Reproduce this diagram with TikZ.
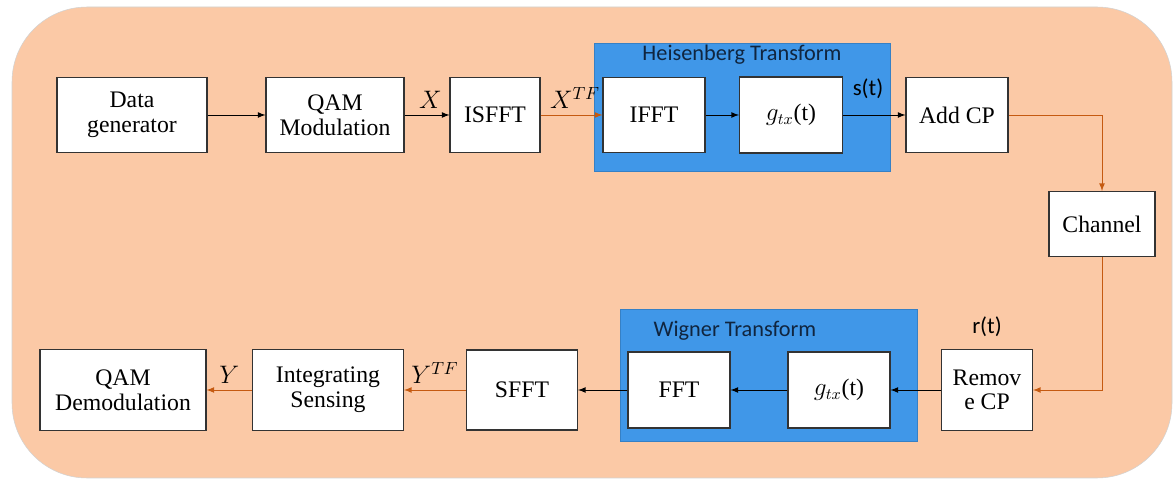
\documentclass[tikz,border=0pt]{standalone}
\usepackage{fontspec}
\setmainfont{Liberation Serif}
\newfontfamily\labelfont{Carlito}
\usepackage{tikz}
\usetikzlibrary{positioning,arrows}

\definecolor{peach}{RGB}{251,201,166}
\definecolor{tfblue}{RGB}{64,151,232}
\definecolor{sigbrown}{RGB}{197,90,17}
\definecolor{titlenavy}{RGB}{16,37,63}

\begin{document}
\begin{tikzpicture}[node distance=3cm,on grid,auto,
  block/.style={draw=black!80,fill=white,line width=0.6pt,align=center,
    font=\fontsize{13.5}{14}\selectfont,minimum width=2.04cm,minimum height=1.5cm,inner sep=1pt},
  tfbox/.style={fill=tfblue,draw=tfblue!85!black,line width=0.4pt},
  tftitle/.style={font=\labelfont\fontsize{12.7}{14}\selectfont,text=titlenavy},
  sig/.style={-latex,line width=0.5pt,draw=black},
  osig/.style={-latex,line width=0.5pt,draw=sigbrown},
  lbl/.style={font=\fontsize{14}{16}\selectfont},
  tlbl/.style={font=\labelfont\fontsize{13}{15}\selectfont}]
  \useasboundingbox (0,0) rectangle (23.52,-9.62);
  \fill[peach,draw=gray!35,line width=0.3pt,rounded corners=1.5cm]
    (0.24,-0.14) rectangle (23.44,-9.56);
  % transform blocks
  \node[tfbox,minimum width=5.92cm,minimum height=2.56cm] (heis) at (14.84,-2.14) {};
  \node[tfbox,minimum width=5.94cm,minimum height=2.64cm] (wig) at (15.37,-7.50) {};
  \node[tftitle] (heis_title) at (14.84,-1.10) {Heisenberg Transform};
  \node[tftitle] (wig_title) at (14.70,-6.62) {Wigner Transform};
  % transmitter
  \node[block,minimum width=3cm] (data_gen) at (2.64,-2.30) {Data\\generator};
  \node[block,minimum width=2.76cm] (qam_mod) [right=4.06cm of data_gen] {QAM\\Modulation};
  \node[block,minimum width=1.8cm] (isfft) [right=3.20cm of qam_mod] {ISFFT};
  \node[block] (ifft) [right=3.18cm of isfft] {IFFT};
  \node[block,minimum width=2.06cm,minimum height=1.52cm] (g_tx) [right=2.74cm of ifft] {$g_{tx}$(t)};
  \node[block] (add_cp) [right=3.32cm of g_tx] {Add CP};
  \node[block,minimum width=2.12cm,minimum height=1.3cm] (channel) at (22.04,-4.48) {Channel};
  % receiver
  \node[block,minimum width=1.82cm,minimum height=1.62cm] (rem_cp) at (19.74,-7.80) {Remov\\e CP};
  \node[block,minimum height=1.52cm] (g_rx) [left=2.96cm of rem_cp] {$g_{tx}$(t)};
  \node[block,minimum height=1.52cm] (fft) [left=3.20cm of g_rx] {FFT};
  \node[block,minimum width=2.22cm,minimum height=1.6cm] (sfft) [left=3.14cm of fft] {SFFT};
  \node[block,minimum width=3.02cm,minimum height=1.62cm] (integ) [left=3.88cm of sfft] {Integrating\\Sensing};
  \node[block,minimum width=3.32cm,minimum height=1.62cm] (qam_demod) [left=4.10cm of integ] {QAM\\Demodulation};
  \node[tlbl] (r_t) [above=1.26cm of rem_cp] {r(t)};
  \path
  (data_gen) edge[sig] (qam_mod)
  (qam_mod) edge[sig] node[lbl,xshift=2pt] {$X$} (isfft)
  (isfft) edge[osig] node[lbl,xshift=2pt] {$X^{TF}$} (ifft)
  (ifft) edge[sig] (g_tx)
  (g_tx) edge[sig] node[tlbl,pos=0.4,yshift=5.5pt] {s(t)} (add_cp)
  (rem_cp) edge[sig] (g_rx)
  (g_rx) edge[sig] (fft)
  (fft) edge[sig] (sfft)
  (sfft) edge[osig] node[lbl,above] {$Y^{TF}$} (integ)
  (integ) edge[osig] node[lbl,above] {$Y$} (qam_demod);
  \draw[osig] (add_cp) -| (channel);
  \draw[osig] (channel) |- (rem_cp);
\end{tikzpicture}
\end{document}
